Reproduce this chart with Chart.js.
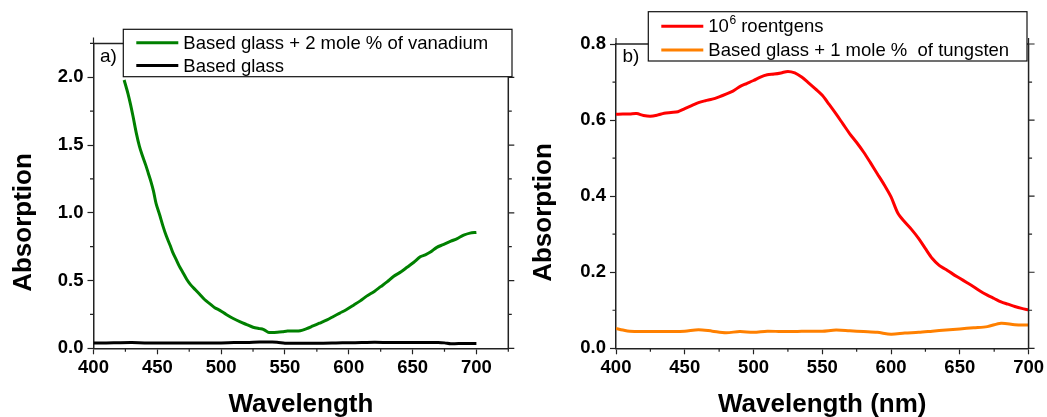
<!DOCTYPE html>
<html>
<head>
<meta charset="utf-8">
<script src="https://cdn.jsdelivr.net/npm/chart.js@4/dist/chart.umd.min.js"></script>
<style>
  html, body { margin: 0; padding: 0; background: #fff; }
  #wrap { position: relative; width: 1047px; height: 417px; overflow: hidden; }
  #chartA { position: absolute; left: 0; top: 0; }
  #chartB { position: absolute; left: 520px; top: 0; }
</style>
</head>
<body>
<div id="wrap">
  <canvas id="chartA" width="520" height="417"></canvas>
  <canvas id="chartB" width="527" height="417"></canvas>
</div>
<script>
// Panel a) - vanadium glass
const wlVanadium = [424, 427, 429, 431, 433.5, 436, 438, 441, 443, 445, 447, 449, 452, 454.5, 457, 460, 462, 465, 467, 470, 473, 476, 480, 483, 487, 491, 495, 499, 504, 509.5, 515, 520, 525, 530, 533, 537, 540, 544, 548, 552, 557, 562, 567, 572, 577, 583, 588, 593, 598, 604, 609, 614, 620, 625, 630, 635, 641, 646, 651, 656, 660, 664, 669, 674, 680, 685, 690, 695, 700];
const absVanadium = [1.98, 1.88, 1.80, 1.71, 1.59, 1.49, 1.43, 1.35, 1.29, 1.23, 1.16, 1.07, 0.98, 0.90, 0.83, 0.76, 0.71, 0.65, 0.61, 0.56, 0.51, 0.47, 0.43, 0.40, 0.36, 0.33, 0.30, 0.28, 0.25, 0.22, 0.195, 0.175, 0.155, 0.145, 0.14, 0.118, 0.116, 0.118, 0.122, 0.127, 0.128, 0.13, 0.145, 0.165, 0.185, 0.21, 0.235, 0.26, 0.285, 0.32, 0.35, 0.385, 0.42, 0.455, 0.49, 0.53, 0.565, 0.60, 0.635, 0.675, 0.69, 0.71, 0.745, 0.765, 0.79, 0.81, 0.835, 0.85, 0.855];
const wlBaseA = [400, 410, 420, 430, 440, 450, 460, 470, 480, 490, 500, 510, 520, 530, 540, 545, 550, 560, 570, 580, 590, 600, 610, 620, 630, 640, 650, 660, 670, 675, 680, 690, 700];
const absBaseA = [0.040, 0.039, 0.041, 0.042, 0.040, 0.040, 0.040, 0.040, 0.040, 0.040, 0.040, 0.042, 0.043, 0.046, 0.047, 0.043, 0.038, 0.037, 0.038, 0.037, 0.039, 0.041, 0.042, 0.044, 0.043, 0.042, 0.042, 0.043, 0.043, 0.040, 0.033, 0.036, 0.036];

// Panel b) - irradiated tungsten glass
const wlIrradiated = [400, 405, 410, 415, 420, 425, 430, 435, 440, 445, 450, 455, 460, 465, 470, 475, 480, 485, 490, 495, 500, 505, 510, 515, 520, 525, 530, 535, 540, 545, 550, 555, 560, 565, 570, 575, 580, 585, 590, 595, 600, 605, 610, 615, 620, 625, 630, 635, 640, 645, 650, 655, 660, 665, 670, 675, 680, 685, 690, 695, 700];
const absIrradiated = [0.615, 0.616, 0.616, 0.617, 0.612, 0.610, 0.613, 0.618, 0.620, 0.622, 0.630, 0.638, 0.646, 0.651, 0.655, 0.661, 0.668, 0.676, 0.688, 0.696, 0.704, 0.713, 0.719, 0.721, 0.724, 0.728, 0.724, 0.713, 0.698, 0.682, 0.665, 0.641, 0.616, 0.590, 0.564, 0.541, 0.516, 0.488, 0.459, 0.430, 0.398, 0.355, 0.332, 0.312, 0.289, 0.262, 0.236, 0.218, 0.207, 0.195, 0.184, 0.173, 0.162, 0.150, 0.140, 0.131, 0.122, 0.116, 0.110, 0.105, 0.101];
const wlTungsten = [400, 405, 410, 420, 430, 440, 450, 460, 470, 480, 490, 500, 510, 520, 530, 540, 550, 560, 570, 580, 590, 600, 610, 620, 630, 640, 650, 660, 670, 680, 690, 700];
const absTungsten = [0.052, 0.048, 0.045, 0.044, 0.044, 0.044, 0.045, 0.049, 0.045, 0.041, 0.044, 0.042, 0.045, 0.044, 0.044, 0.045, 0.045, 0.048, 0.046, 0.044, 0.042, 0.037, 0.040, 0.042, 0.045, 0.048, 0.051, 0.054, 0.057, 0.066, 0.062, 0.061];

const labelsA = ['Based glass + 2 mole % of vanadium', 'Based glass'];
const labelsB = ['10^6 roentgens', 'Based glass + 1 mole %  of tungsten'];

const xTickValues = [400, 450, 500, 550, 600, 650, 700];
const yTicksA = [0, 0.5, 1.0, 1.5, 2.0];
const yTicksB = [0, 0.2, 0.4, 0.6, 0.8];

const FONT = "'Liberation Sans', Arial, sans-serif";

function pts(xs, ys) {
  return xs.map((x, i) => ({ x: x, y: ys[i] }));
}

function isMajor(v, step) {
  return Math.abs(v / step - Math.round(v / step)) < 1e-6;
}

// draws frame, mirrored ticks, minor ticks, titles, panel letter and legend box
const decor = {
  id: 'decor',
  afterDraw(chart, args, o) {
    const ctx = chart.ctx;
    const a = chart.chartArea;
    const xs = chart.scales.x, ys = chart.scales.y;
    ctx.save();
    ctx.strokeStyle = '#222';
    ctx.lineWidth = 1.5;
    ctx.beginPath();
    ctx.moveTo(a.left, a.top); ctx.lineTo(a.right, a.top);
    ctx.moveTo(a.right, a.top); ctx.lineTo(a.right, a.bottom);
    ctx.stroke();
    ctx.lineWidth = 1.2;
    ctx.beginPath();
    for (let v = o.xMin; v <= o.xMax + 1e-6; v += o.xMinor) {
      const p = xs.getPixelForValue(v);
      const major = isMajor(v, o.xMajor);
      const len = major ? 6 : 3.5;
      if (!major) { ctx.moveTo(p, a.bottom); ctx.lineTo(p, a.bottom + len); }
      ctx.moveTo(p, a.top); ctx.lineTo(p, a.top - len);
    }
    for (let v = 0; v <= o.yMax + 1e-6; v += o.yMinor) {
      const p = ys.getPixelForValue(v);
      const major = isMajor(v, o.yMajor);
      const len = major ? 6 : 3.5;
      if (!major) { ctx.moveTo(a.left, p); ctx.lineTo(a.left - len, p); }
      ctx.moveTo(a.right, p); ctx.lineTo(a.right + len, p);
    }
    ctx.stroke();

    // axis titles
    ctx.fillStyle = '#000';
    ctx.font = 'bold 26px ' + FONT;
    ctx.textAlign = 'center';
    ctx.textBaseline = 'alphabetic';
    ctx.fillText(o.xTitle, (a.left + a.right) / 2, 412);
    ctx.save();
    ctx.translate(31, o.yTitleY);
    ctx.rotate(-Math.PI / 2);
    ctx.fillText('Absorption', 0, 0);
    ctx.restore();

    // panel letter
    ctx.font = '19px ' + FONT;
    ctx.textAlign = 'left';
    ctx.textBaseline = 'middle';
    ctx.fillText(o.letter, a.left + 6.5, 57);

    // legend
    const L = o.legend;
    ctx.fillStyle = '#fff';
    ctx.fillRect(L.x, L.y, L.w, L.h);
    ctx.strokeStyle = '#111';
    ctx.lineWidth = 1.2;
    ctx.strokeRect(L.x, L.y, L.w, L.h);
    chart.data.datasets.forEach((ds, i) => {
      const cy = L.rows[i];
      ctx.strokeStyle = ds.borderColor;
      ctx.lineWidth = 3;
      ctx.beginPath();
      ctx.moveTo(L.x + 13, cy); ctx.lineTo(L.x + 55, cy);
      ctx.stroke();
      ctx.fillStyle = '#000';
      ctx.font = '18.5px ' + FONT;
      ctx.textBaseline = 'middle';
      let tx = L.x + 60;
      const parts = ds.label.split('^');
      ctx.fillText(parts[0], tx, cy + 1);
      if (parts.length > 1) {
        tx += ctx.measureText(parts[0]).width;
        ctx.font = '12px ' + FONT;
        ctx.fillText(parts[1][0], tx + 0.5, cy - 6);
        tx += ctx.measureText(parts[1][0]).width + 0.5;
        ctx.font = '18.5px ' + FONT;
        ctx.fillText(parts[1].slice(1), tx, cy + 1);
      }
    });
    ctx.restore();
  }
};

function makePanel(id, datasets, opt) {
  const ctx = document.getElementById(id).getContext('2d');
  return new Chart(ctx, {
    type: 'scatter',
    data: { datasets: datasets },
    plugins: [decor],
    options: {
      responsive: false,
      animation: false,
      events: [],
      layout: { padding: { left: 0, top: opt.top, right: opt.right, bottom: 0 } },
      plugins: {
        legend: { display: false },
        tooltip: { enabled: false },
        decor: opt
      },
      elements: { point: { radius: 0 } },
      scales: {
        x: {
          type: 'linear',
          min: opt.xMin,
          max: opt.xMax,
          afterFit: (s) => { s.height = 417 - opt.bottom; },
          afterBuildTicks: (s) => { s.ticks = xTickValues.map(v => ({ value: v })); },
          border: { display: true, color: '#222', width: 1.5 },
          grid: { drawOnChartArea: false, tickLength: 6, tickWidth: 1.2, tickColor: '#222' },
          ticks: {
            padding: 3,
            color: '#000',
            maxRotation: 0,
            autoSkip: false,
            font: { family: FONT, size: 18.5, weight: 'bold' },
            callback: (v) => String(v)
          }
        },
        y: {
          type: 'linear',
          min: 0,
          max: opt.yMax,
          afterFit: (s) => { s.width = opt.left; },
          afterBuildTicks: (s) => { s.ticks = opt.yTicks.map(v => ({ value: v })); },
          border: { display: true, color: '#222', width: 1.5 },
          grid: { drawOnChartArea: false, tickLength: 6, tickWidth: 1.2, tickColor: '#222' },
          ticks: {
            padding: 4,
            color: '#000',
            autoSkip: false,
            font: { family: FONT, size: 18.5, weight: 'bold' },
            callback: (v) => v.toFixed(1)
          }
        }
      }
    }
  });
}

function line(label, color, data) {
  return {
    label: label,
    data: data,
    showLine: true,
    borderColor: color,
    backgroundColor: color,
    borderWidth: 3,
    tension: 0.3,
    pointRadius: 0
  };
}

makePanel('chartA', [
  line(labelsA[0], '#008000', pts(wlVanadium, absVanadium)),
  line(labelsA[1], '#000000', pts(wlBaseA, absBaseA))
], {
  left: 93.5, top: 43.4, right: 520 - 508.3, bottom: 348.3,
  xMin: 400, xMax: 725, xMajor: 50, xMinor: 25,
  yMax: 2.25, yMajor: 0.5, yMinor: 0.25, yTicks: yTicksA,
  xTitle: 'Wavelength', yTitleY: 222.5, letter: 'a)',
  legend: { x: 123.3, y: 29.3, w: 388.7, h: 47.4, rows: [42.7, 65.5] }
});

makePanel('chartB', [
  line(labelsB[0], '#ff0000', pts(wlIrradiated, absIrradiated)),
  line(labelsB[1], '#ff8000', pts(wlTungsten, absTungsten))
], {
  left: 96, top: 44, right: 527 - 510, bottom: 348.3,
  xMin: 400, xMax: 700, xMajor: 50, xMinor: 25,
  yMax: 0.8, yMajor: 0.2, yMinor: 0.1, yTicks: yTicksB,
  xTitle: 'Wavelength (nm)', yTitleY: 212.5, letter: 'b)',
  legend: { x: 128.3, y: 11.7, w: 378.7, h: 49.3, rows: [26.3, 50] }
});
</script>
</body>
</html>
